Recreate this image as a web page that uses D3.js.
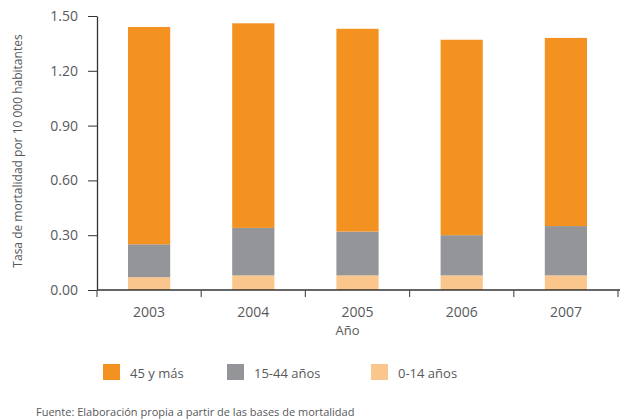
<!DOCTYPE html>
<html>
<head>
<meta charset="utf-8">
<script src="https://cdn.jsdelivr.net/npm/d3@7"></script>
<style>
  body { margin: 0; background: #fff; }
  text { font-family: "Open Sans", "Noto Sans", sans-serif; fill: #58595b; }
</style>
</head>
<body>
<script>
// data
const years = ["2003", "2004", "2005", "2006", "2007"];
const age0_14 = [0.07, 0.08, 0.08, 0.08, 0.08];
const age15_44 = [0.18, 0.26, 0.24, 0.22, 0.27];
const age45plus = [1.19, 1.12, 1.11, 1.07, 1.03];
const yTicks = [0, 0.3, 0.6, 0.9, 1.2, 1.5];
const seriesNames = ["45 y más", "15-44 años", "0-14 años"];
const seriesColors = ["#f39220", "#939598", "#fbc68c"];

const W = 621, H = 420;
const margin = {top: 16, right: 3, bottom: 130, left: 97};
const width = W - margin.left - margin.right,
      height = H - margin.top - margin.bottom;

const svg = d3.select("body").append("svg")
    .attr("width", W).attr("height", H);
const g = svg.append("g")
    .attr("transform", `translate(${margin.left},${margin.top})`);

// stack from the bottom: 0-14, 15-44, 45+
const rows = years.map((yr, i) => ({year: yr, a: age0_14[i], b: age15_44[i], c: age45plus[i]}));
const stack = d3.stack().keys(["a", "b", "c"])(rows);
const colorByKey = {a: seriesColors[2], b: seriesColors[1], c: seriesColors[0]};

const x = d3.scaleBand().domain(years).range([0, width]).padding(0);
const y = d3.scaleLinear().domain([0, 1.5]).range([height, 0]);
const barW = x.bandwidth() * 0.405;

// bars
g.selectAll(".layer")
  .data(stack)
  .enter().append("g")
    .attr("fill", d => colorByKey[d.key])
  .selectAll("rect")
  .data(d => d)
  .enter().append("rect")
    .attr("x", d => x(d.data.year) + x.bandwidth() / 2 - barW / 2)
    .attr("y", d => y(d[1]))
    .attr("height", d => y(d[0]) - y(d[1]))
    .attr("width", barW);

// y axis
const yAxis = g.append("g")
  .call(d3.axisLeft(y).tickValues(yTicks).tickFormat(d3.format(".2f")).tickSize(9).tickSizeOuter(0));
yAxis.select(".domain").attr("stroke", "#333").attr("stroke-width", 1.3);
yAxis.selectAll(".tick line").attr("stroke", "#333");
yAxis.selectAll("text").attr("x", -19).style("font-size", "14px").style("fill", "#58595b");

// x axis: ticks at band edges
const xAxis = g.append("g").attr("transform", `translate(0,${height})`);
xAxis.append("line")
  .attr("x1", 0).attr("x2", width + 2)
  .attr("stroke", "#333").attr("stroke-width", 1.3);
xAxis.selectAll(".edge")
  .data(years.concat(["end"]))
  .enter().append("line")
    .attr("class", "edge")
    .attr("x1", (d, i) => i < years.length ? x(d) : width)
    .attr("x2", (d, i) => i < years.length ? x(d) : width)
    .attr("y1", 0).attr("y2", 7)
    .attr("stroke", "#555").attr("stroke-width", 1.2);
xAxis.selectAll(".yr")
  .data(years)
  .enter().append("text")
    .attr("x", d => x(d) + x.bandwidth() / 2)
    .attr("y", 27)
    .attr("text-anchor", "middle")
    .style("font-size", "14px")
    .text(d => d);

// axis titles
g.append("text")
  .attr("x", width / 2 - 10)
  .attr("y", height + 45)
  .attr("text-anchor", "middle")
  .style("font-size", "13px")
  .text("Año");
svg.append("text")
  .attr("transform", `translate(22,${margin.top + height / 2 - 2}) rotate(-90)`)
  .attr("text-anchor", "middle")
  .style("font-size", "12px")
  .text("Tasa de mortalidad por 10 000 habitantes");

// legend
const legendX = [103, 227, 371];
const legend = svg.selectAll(".leg")
  .data(seriesNames)
  .enter().append("g")
    .attr("transform", (d, i) => `translate(${legendX[i]},364)`);
legend.append("rect")
  .attr("width", 17).attr("height", 16)
  .attr("fill", (d, i) => seriesColors[i]);
legend.append("text")
  .attr("x", 27).attr("y", 14)
  .style("font-size", "13px")
  .text(d => d);

// source note
svg.append("text")
  .attr("x", 36).attr("y", 416)
  .style("font-size", "11px")
  .text("Fuente: Elaboración propia a partir de las bases de mortalidad");
</script>
</body>
</html>
